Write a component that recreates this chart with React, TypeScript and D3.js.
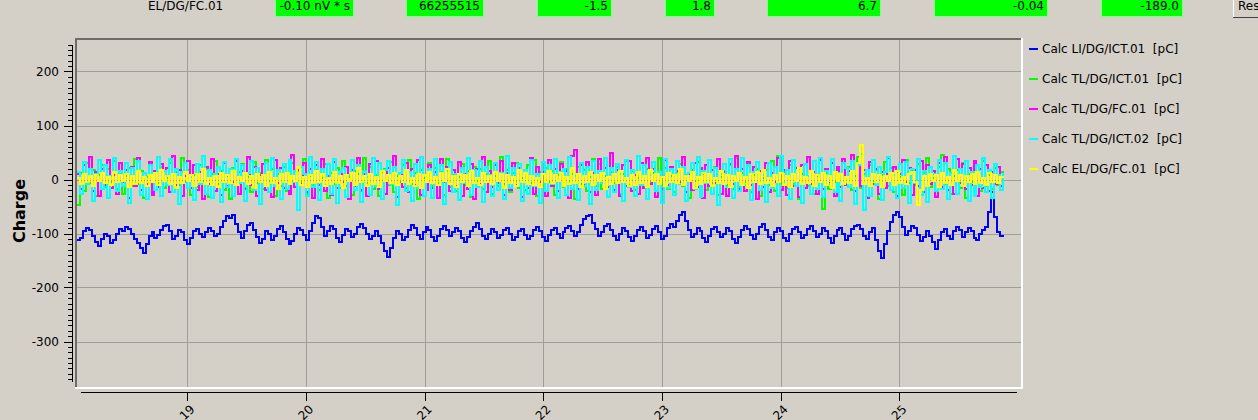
import * as d3 from "d3";

// sample times (minutes) - one reading every ~1.5 s
const startMinute = 18.07;
const sampleStep = 0.0251;

const seriesNames = [
  "Calc LI/DG/ICT.01  [pC]",
  "Calc TL/DG/ICT.01  [pC]",
  "Calc TL/DG/FC.01  [pC]",
  "Calc TL/DG/ICT.02  [pC]",
  "Calc EL/DG/FC.01  [pC]",
];
const seriesColors = ["#0000ff", "#00ff00", "#ff00ff", "#00ffff", "#ffff00"];

const liIct01 = [
  -112, -108, -96, -90, -94, -104, -116, -124, -110, -100,
  -104, -118, -112, -100, -92, -96, -88, -92, -100, -110,
  -118, -126, -136, -120, -104, -98, -108, -102, -94, -86,
  -84, -96, -110, -104, -94, -98, -112, -120, -108, -96,
  -92, -100, -106, -98, -90, -96, -104, -100, -88, -76,
  -68, -72, -66, -82, -98, -108, -96, -84, -80, -94,
  -106, -118, -110, -96, -100, -112, -104, -92, -86, -98,
  -110, -120, -114, -100, -90, -94, -102, -112, -96, -80,
  -68, -72, -88, -104, -96, -86, -92, -108, -116, -102,
  -92, -96, -106, -100, -88, -82, -90, -100, -110, -104,
  -96, -104, -118, -132, -144, -126, -108, -96, -100, -112,
  -106, -94, -84, -90, -102, -110, -98, -88, -94, -106,
  -114, -104, -92, -86, -94, -104, -98, -90, -96, -108,
  -116, -106, -96, -88, -80, -92, -104, -110, -100, -92,
  -98, -108, -102, -94, -90, -100, -112, -106, -96, -92,
  -102, -110, -104, -94, -88, -96, -106, -114, -102, -94,
  -90, -100, -108, -98, -90, -86, -96, -104, -98, -84,
  -74, -68, -66, -80, -92, -104, -98, -86, -82, -94,
  -104, -112, -100, -90, -96, -106, -114, -104, -94, -88,
  -96, -108, -102, -92, -86, -98, -110, -104, -90, -82,
  -88, -76, -66, -60, -76, -94, -106, -100, -90, -96,
  -108, -116, -104, -92, -88, -98, -106, -100, -90, -96,
  -110, -118, -106, -94, -86, -92, -102, -110, -100, -88,
  -82, -94, -106, -112, -98, -90, -96, -108, -114, -100,
  -92, -88, -98, -108, -102, -92, -86, -96, -106, -100,
  -90, -96, -108, -118, -104, -94, -90, -100, -112, -104,
  -92, -86, -84, -92, -104, -110, -98, -90, -112, -132,
  -145, -120, -96, -78, -66, -60, -70, -88, -102, -96,
  -86, -90, -102, -114, -106, -96, -104, -116, -128, -112,
  -98, -92, -104, -110, -96, -88, -94, -106, -98, -90,
  -96, -108, -112, -100, -94, -88, -60, -23, -70, -98,
  -104, -102,
];

const tlIct01 = [
  -48, 12, -22, 30, -6, 18, -30, 8, 26, -14,
  20, -4, 34, -18, 10, -26, 6, 22, -12, 38,
  -8, 16, -34, 4, 28, -20, 12, -6, 24, -16,
  2, 30, -24, 14, -10, 40, -4, 18, -28, 8,
  -14, 26, -2, 20, -32, 10, 34, -8, 16, -20,
  6, -36, 22, -10, 14, 28, -16, 4, -24, 32,
  -6, 12, -18, 36, -2, 20, -30, 10, -12, 24,
  -22, 8, 30, -14, 16, -4, 38, -26, 6, -10,
  18, -20, 2, 28, -34, 12, -8, 22, -16, 34,
  -12, 4, -28, 16, 10, -22, 40, -6, 24, -18,
  8, -30, 14, 20, -10, 32, -24, 6, -4, 26,
  -16, 36, -8, 12, -36, 18, 2, -20, 30, -12,
  22, -6, 14, -28, 38, -14, 8, -22, 4, 28,
  -10, 16, -32, 24, -2, 20, -18, 10, 34, -26,
  6, -12, 42, -8, 18, -24, 12, 30, -16, 2,
  -20, 26, -6, 36, -30, 14, -10, 22, -4, 16,
  -28, 8, 32, -14, 20, -2, 10, -36, 24, -8,
  18, -22, 4, 38, -12, 28, -18, 6, -32, 14,
  -6, 24, -26, 10, 34, -10, 16, -20, 2, 30,
  -14, 20, -4, 12, -30, 40, -8, 22, -18, 6,
  -24, 14, 28, -12, 8, -34, 18, -2, 32, -16,
  10, -20, 36, -6, 24, -28, 4, 16, -10, 26,
  -18, 40, -14, 12, -4, 30, -24, 8, 20, -30,
  2, 18, -10, 34, -22, 44, -6, 14, -16, 26,
  -8, 22, -36, 10, 28, -12, 16, -26, 6, 36,
  -54, 12, -18, 30, -4, 20, -14, 38, -8, 24,
  -20, 6, 42, -16, 10, -32, 26, -2, 18, -36,
  8, 32, -12, 22, -24, 14, 4, -28, 36, -6,
  16, -10, 28, -20, 12, 40, -14, 2, -30, 24,
  46, -8, 20, -26, 6, 18, -16, 30, -34, 10,
  -4, 26, 14, -22, 34, -12, 8, -18, 22, -10,
  14, -8,
];

const tlFc01 = [
  10, -18, 26, -6, 42, -22, 14, -30, 20, -10,
  36, -16, 8, -26, 30, -4, 18, -34, 24, -12,
  40, -20, 12, -8, 32, -28, 16, -14, 28, -2,
  22, -24, 44, -10, 18, -30, 6, 34, -16, 26,
  -20, 14, -36, 24, -8, 38, -22, 10, -28, 30,
  -12, 20, -4, 34, -26, 16, -18, 42, -10, 24,
  -30, 8, 28, -20, 14, -32, 36, -6, 22, -16,
  12, -26, 46, -14, 18, -8, 30, -24, 20, -34,
  26, -10, 38, -22, 6, -28, 32, -16, 14, -4,
  24, -36, 18, -12, 40, -20, 10, -30, 28, -8,
  34, -18, 16, -26, 22, -6, 44, -32, 12, -14,
  30, -24, 20, -10, 36, -28, 8, -20, 26, -16,
  14, -34, 38, -4, 24, -22, 18, -12, 32, -30,
  10, -18, 28, -36, 20, -8, 42, -24, 16, -14,
  26, -6, 34, -28, 12, -20, 30, -10, 22, -32,
  18, -16, 40, -26, 24, -4, 14, -30, 36, -12,
  20, -22, 28, -8, 16, -34, 44, 55, -18, 26,
  -10, 32, -24, 12, -28, 38, -6, 22, -14, 50,
  -20, 18, -30, 26, -12, 34, -22, 8, -26, 30,
  -16, 40, -8, 20, -32, 14, -18, 36, -10, 24,
  -28, 16, -4, 42, -24, 10, -20, 30, -14, 22,
  -34, 26, -12, 18, -6, 38, -26, 14, -30, 28,
  -8, 44, -18, 20, -22, 32, -10, 24, -36, 16,
  -14, 30, -24, 12, -4, 40, -20, 18, -28, 34,
  -12, 22, -32, 26, -16, 42, -8, 14, -26, 36,
  -18, 20, -6, 30, -30, 24, -14, 38, -10, 16,
  46, -22, 28, -12, 18, -34, 32, -8, 20, -26,
  14, -16, 40, -20, 24, -30, 10, 36, -4, 22,
  -28, 18, -12, 34, -24, 26, -8, 16, -32, 30,
  -14, 42, -20, 12, -26, 38, -6, 28, -18, 22,
  -10, 34, -30, 20, -16, 26, -22, 14, -8, 24,
  -12, 10,
];

const tlIct02 = [
  14, -26, 32, -8, 20, -40, 10, 36, -18, 26,
  -34, 6, 40, -22, 16, -12, 30, -44, 22, -6,
  34, -28, 12, -36, 26, 8, -20, 42, -30, 16,
  -10, 38, -24, 20, -46, 14, 30, -16, 4, -38,
  28, -8, 44, -26, 18, -34, 10, 24, -42, 32,
  -14, 20, -30, 38, -6, 26, -40, 12, 34, -20,
  22, -46, 8, 30, -24, 40, -12, 18, -36, 28,
  -18, 36, -4, 16, -56, 24, 10, -30, 42, -14,
  32, -38, 20, -10, 28, -26, 38, -44, 14, 22,
  -32, 8, 36, -20, 26, -42, 16, 4, -28, 40,
  -12, 30, -36, 18, 34, -8, 24, -48, 12, 36,
  -22, 14, -40, 28, -16, 42, -30, 6, 20, -34,
  38, -10, 26, -46, 16, 32, -24, 10, -38, 22,
  -6, 40, -28, 18, -14, 34, -42, 24, 8, -30,
  30, -20, 12, -36, 44, -16, 22, -4, 28, -40,
  18, -26, 36, -12, 10, -44, 32, -22, 26, -8,
  38, -34, 14, 20, -28, 42, -18, 6, -38, 30,
  -12, 24, -46, 34, -20, 16, -6, 40, -32, 22,
  -24, 28, 10, -40, 36, -14, 18, -30, 44, -10,
  26, -36, 8, 32, -22, 14, -44, 38, -16, 20,
  -28, 34, -8, 24, -40, 12, 30, -18, 42, -32,
  16, -6, 36, -26, 22, -48, 10, 28, -14, 38,
  -34, 20, -22, 40, -10, 26, -38, 14, 32, -20,
  8, -42, 30, -16, 24, -30, 44, -4, 18, -36,
  36, -12, 20, -44, 28, 6, -26, 34, -18, 40,
  -32, 16, -8, 38, -24, 12, -40, 30, 22, -14,
  34, -46, 26, 48, -56, 18, -30, 36, -10, 24,
  -38, 14, 42, -20, 8, -34, 28, -16, 32, -44,
  20, -6, 38, -28, 16, -42, 24, 10, -22, 36,
  -18, 30, -36, 12, 44, -26, 20, -8, 34, -40,
  14, -30, 26, -14, 40, -24, 18, -34, 28, 8,
  -20, 12,
];

const elFc01 = [
  2, -8, 10, -4, 6, -12, 8, -2, 12, -6,
  4, -10, 14, -4, 8, -2, 10, -14, 6, -8,
  16, -6, 4, -12, 8, -4, 12, -10, 18, -2,
  6, -8, 10, -16, 4, -6, 14, -2, 8, -12,
  10, -4, 20, -8, 2, -10, 6, -14, 12, -4,
  8, -6, 16, -10, 4, -2, 12, -8, 6, -16,
  10, -4, 8, -12, 14, -6, 2, -18, 10, -4,
  12, -8, 6, -2, 24, -10, 4, -14, 8, -6,
  16, -4, 10, -12, 2, -8, 14, -6, 6, -16,
  8, -2, 12, -10, 22, -4, 6, -12, 10, -8,
  4, -14, 16, -2, 8, -6, 12, -10, 6, -4,
  18, -8, 2, -12, 10, -16, 8, -4, 14, -6,
  4, -10, 12, -2, 20, -8, 6, -14, 10, -4,
  8, -12, 16, -6, 2, -10, 12, -4, 6, -8,
  14, -2, 10, -16, 8, -6, 4, -12, 18, -4,
  12, -8, 6, -10, 2, -14, 10, -4, 16, -6,
  8, -2, 12, -12, 4, -8, 22, -6, 10, -14,
  6, -4, 14, -10, 8, -2, 12, -18, 4, -8,
  10, -6, 16, -4, 2, -12, 8, -10, 14, -6,
  6, -14, 18, -2, 10, -8, 4, -12, 12, -4,
  8, -6, 20, -10, 6, -2, 14, -16, 4, -8,
  12, -4, 10, -12, 2, -6, 16, -8, 8, -14,
  6, -2, 12, -10, 4, -16, 10, -4, 14, -8,
  18, -6, 2, -12, 8, -4, 12, -10, 6, -14,
  10, -2, 22, -8, 4, -6, 16, -12, 8, -4,
  12, -10, 6, -16, 14, -2, 10, -8, 4, -6,
  16, -12, 30, 63, -8, 2, -12, 10, -4, 8,
  -14, 6, -2, 12, -10, 16, -6, 4, -8, 10,
  14, -4, -48, -20, 6, -12, 10, -2, 8, -14,
  12, -6, 4, -10, 18, -2, 8, -12, 6, -4,
  10, -8, 14, -6, 2, -10, 12, -4, 8, -6,
  4, 2,
];

const seriesValues = [liIct01, tlIct01, tlFc01, tlIct02, elFc01];

// status strip on top
const statusLabel = "EL/DG/FC.01";
const statusValues = ["-0.10 nV * s", "66255515", "-1.5", "1.8", "6.7", "-0.04", "-189.0"];
const statusBoxes = [
  [275, 353], [406, 483], [537, 611], [665, 714], [767, 880], [934, 1047], [1101, 1182],
];

const xTickLabels = ["19", "20", "21", "22", "23", "24", "25"];
const xTickValues = [19, 20, 21, 22, 23, 24, 25];
const yMajorTicks = [-300, -200, -100, 0, 100, 200];

const W = 1258;
const H = 420;
const frame = { left: 75, top: 38, right: 1023, bottom: 389 };
const font = "DejaVu Sans, sans-serif";

export default function App() {
  const x = d3.scaleLinear().domain([18, 26]).range([68.75, 1018]);
  const y = d3.scaleLinear().domain([-375, 250]).range([382, 44.5]);

  const yMinor = d3.range(-370, 251, 10).filter((v) => v % 100 !== 0);

  // archiver samples are held until the next reading -> step curve
  const line = d3
    .line<number>()
    .x((_, i) => x(startMinute + i * sampleStep))
    .y((d) => y(d))
    .curve(d3.curveStepAfter);

  const legendY = [49, 79, 109, 139, 169];

  return (
    <div style={{ position: "fixed", left: 0, top: 0 }}>
      <svg width={W} height={H} style={{ display: "block", fontFamily: font }}>
        <rect width={W} height={H} fill="#d4d0c8" />

        {/* status strip */}
        <text x={148} y={10} fontSize={12} fill="#000">{statusLabel}</text>
        {statusBoxes.map(([a, b], i) => (
          <g key={i}>
            <rect x={a} y={-1} width={b - a} height={17} fill="#00ff00" stroke="#80ff80" strokeWidth={1} shapeRendering="crispEdges" />
            <text x={b - 3} y={10} fontSize={12} textAnchor="end" fill="#000">{statusValues[i]}</text>
          </g>
        ))}
        <rect x={1233} y={-1} width={30} height={18} fill="#d4d0c8" />
        <line x1={1233.5} x2={1233.5} y1={0} y2={17} stroke="#ffffff" />
        <line x1={1233} x2={1258} y1={17.5} y2={17.5} stroke="#404040" />
        <text x={1238} y={10} fontSize={12} fill="#000">Reset</text>

        {/* plot frame */}
        <defs>
          <clipPath id="plotClip">
            <rect x={77} y={40} width={944} height={347} />
          </clipPath>
        </defs>
        <g shapeRendering="crispEdges">
          {xTickValues.map((t) => (
            <line key={t} x1={Math.round(x(t)) + 0.5} x2={Math.round(x(t)) + 0.5} y1={40} y2={387} stroke="#a09e9a" />
          ))}
          {yMajorTicks.map((t) => (
            <line key={t} x1={77} x2={1021} y1={Math.round(y(t)) + 0.5} y2={Math.round(y(t)) + 0.5} stroke="#a09e9a" />
          ))}
        </g>

        <g clipPath="url(#plotClip)">
          {seriesValues.map((vals, i) => (
            <path key={i} d={line(vals) ?? ""} fill="none" stroke={seriesColors[i]} strokeWidth={2} shapeRendering="crispEdges" />
          ))}
        </g>

        <g shapeRendering="crispEdges">
          <rect x={frame.left} y={frame.top} width={frame.right - frame.left} height={2} fill="#6f6c68" />
          <rect x={frame.left} y={frame.top} width={2} height={frame.bottom - frame.top} fill="#6f6c68" />
          <rect x={frame.right - 2} y={frame.top} width={2} height={frame.bottom - frame.top} fill="#ffffff" />
          <rect x={frame.left} y={frame.bottom - 2} width={frame.right - frame.left} height={2} fill="#ffffff" />
        </g>

        {/* y axis */}
        <g shapeRendering="crispEdges" stroke="#000">
          <line x1={72.5} x2={72.5} y1={y(250)} y2={y(-375)} />
          {yMajorTicks.map((t) => (
            <line key={t} x1={64} x2={72} y1={Math.round(y(t)) + 0.5} y2={Math.round(y(t)) + 0.5} />
          ))}
          {yMinor.map((t) => (
            <line key={t} x1={68} x2={72} y1={Math.round(y(t)) + 0.5} y2={Math.round(y(t)) + 0.5} />
          ))}
        </g>
        {yMajorTicks.map((t) => (
          <text key={t} x={59} y={y(t)} dy="0.36em" fontSize={12} textAnchor="end" fill="#000">
            {t}
          </text>
        ))}
        <text transform="translate(25,211) rotate(-90)" fontSize={16} fontWeight="bold" textAnchor="middle" fill="#000">
          Charge
        </text>

        {/* x axis */}
        <g shapeRendering="crispEdges" stroke="#000">
          <line x1={81} x2={1017} y1={392.5} y2={392.5} />
          {xTickValues.map((t) => (
            <line key={t} x1={Math.round(x(t)) + 0.5} x2={Math.round(x(t)) + 0.5} y1={392} y2={401} />
          ))}
        </g>
        {xTickValues.map((t, i) => (
          <text
            key={t}
            transform={`translate(${x(t) + 8},${410}) rotate(-45)`}
            fontSize={12}
            textAnchor="end"
            fill="#000"
          >
            {xTickLabels[i]}
          </text>
        ))}

        {/* legend */}
        {seriesNames.map((name, i) => (
          <g key={name}>
            <rect x={1029} y={legendY[i] - 1} width={9} height={2} fill={seriesColors[i]} />
            <text x={1042} y={legendY[i]} dy="0.36em" fontSize={12} fill="#000" style={{ whiteSpace: "pre" }}>
              {name}
            </text>
          </g>
        ))}
      </svg>
    </div>
  );
}
